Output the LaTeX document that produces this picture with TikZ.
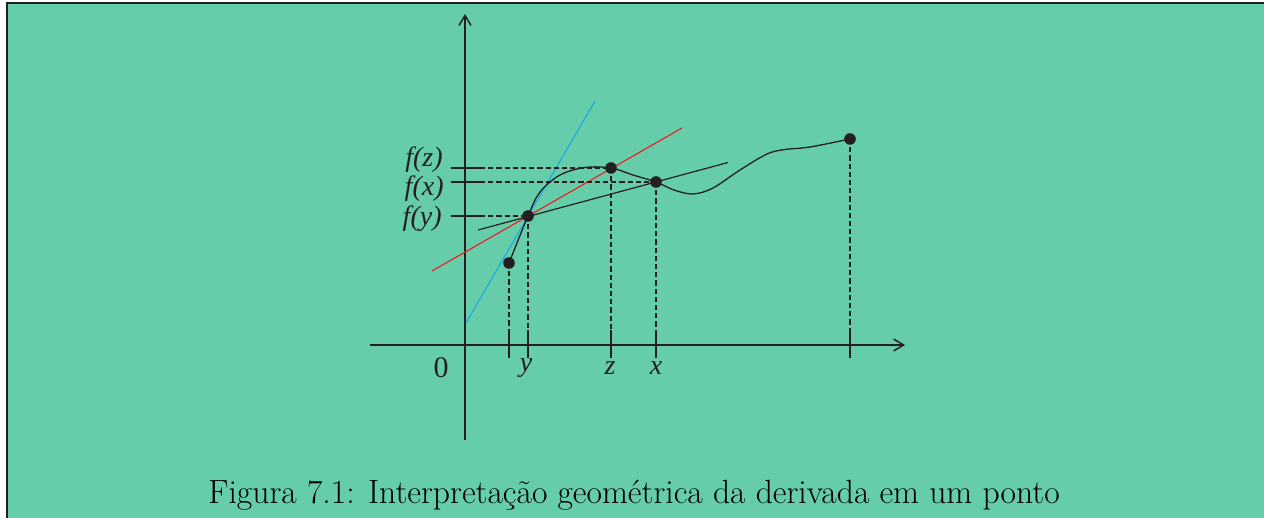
\documentclass[tikz,border=0pt]{standalone}
\usepackage{fontspec}
\newfontfamily\lblfont{Liberation Serif}
\usetikzlibrary{arrows.meta}
\definecolor{bg}{RGB}{102,205,170}
\definecolor{ink}{RGB}{35,31,32}
\definecolor{tanblue}{RGB}{25,170,230}
\definecolor{tanred}{RGB}{237,28,36}
\tikzset{
  axis/.style={ink, line width=0.75pt, -{Straight Barb[length=5pt,width=6pt]}},
  curve/.style={ink, line width=0.65pt},
  guide/.style={ink, line width=0.6pt, dash pattern=on 2.6pt off 1.5pt},
  tick/.style={ink, line width=0.7pt},
  dot/.style={circle, fill=ink, inner sep=0pt, minimum size=5.8pt},
  flabel/.style={font=\lblfont\itshape\fontsize{14}{16}\selectfont, text=ink, inner sep=0pt},
  alabel/.style={font=\lblfont\itshape\fontsize{14}{16}\selectfont, text=ink, inner sep=0pt},
}
\begin{document}
\begin{tikzpicture}[x=0.5pt,y=-0.5pt]
\useasboundingbox (0,0) rectangle (1264,518);
\fill[bg] (6.5,3.5) rectangle (1264,518);
\draw[ink, line width=1pt] (6.5,518) -- (6.5,3.5) -- (1264,3.5);

% axes
\coordinate (ybot) at (465,440);
\coordinate (ytop) at (465,14);
\coordinate (xl) at (370,345);
\coordinate (xr) at (905,345);
\draw[axis] (ybot) -- (ytop);
\draw[axis] (xl) -- (xr);

% tangent lines
\coordinate (b1) at (466,323);
\coordinate (b2) at (595,101);
\coordinate (r1) at (432,271);
\coordinate (r2) at (682,128);
\coordinate (s1) at (478,230);
\coordinate (s2) at (728,162.5);
\draw[tanblue, line width=0.55pt] (b1) -- (b2);
\draw[tanred, line width=0.55pt] (r1) -- (r2);
\draw[ink, line width=0.6pt] (s1) -- (s2);

% curve
\draw[curve] plot[smooth, tension=0.55] coordinates {
 (509,263) (528,216) (540,192) (560,175) (585,167.5) (611,168)
 (633,175) (656,182) (674,190) (693,194) (713,188) (740,170)
 (767,154) (785,149.5) (810,147) (850,139)};

% vertical guides and ticks
\foreach \n/\x/\y in {A/509/263, Y/528/216, Z/611/168, X/656/182, E/850/139}{
  \coordinate (\n top) at (\x,330);
  \coordinate (\n bot) at (\x,358);
  \coordinate (\n pt) at (\x,\y);
  \draw[guide] (\n pt) -- (\n top);
  \draw[tick] (\n top) -- (\n bot);
}

% horizontal guides
\foreach \n/\x/\y in {Z/611/168, X/656/182, Y/528/216}{
  \coordinate (\n h0) at (451,\y);
  \coordinate (\n h1) at (480,\y);
  \draw[tick] (\n h0) -- (\n h1);
  \draw[guide] (\n h1) -- (\n pt);
}

% points
\node[dot] (A) at (Apt) {};
\node[dot] (Y) at (Ypt) {};
\node[dot] (Z) at (Zpt) {};
\node[dot] (X) at (Xpt) {};
\node[dot] (E) at (Ept) {};

% labels
\node[flabel, anchor=east] (lfz) at (443,160) {f(z)};
\node[flabel, anchor=east] (lfx) at (444,189) {f(x)};
\node[flabel, anchor=east] (lfy) at (442,219) {f(y)};
\node[font=\lblfont\fontsize{15}{17}\selectfont, text=ink, inner sep=0pt] (l0) at (441,368) {0};
\node[alabel] (ly) at (526,368) {y};
\node[alabel] (lz) at (610,368) {z};
\node[alabel] (lx) at (656,368) {x};

% caption
\node[font=\fontsize{16.8}{19}\selectfont, text=black, inner sep=0pt] (cap) at (634,495) {Figura 7.1: Interpretação geométrica da derivada em um ponto};
\end{tikzpicture}
\end{document}
